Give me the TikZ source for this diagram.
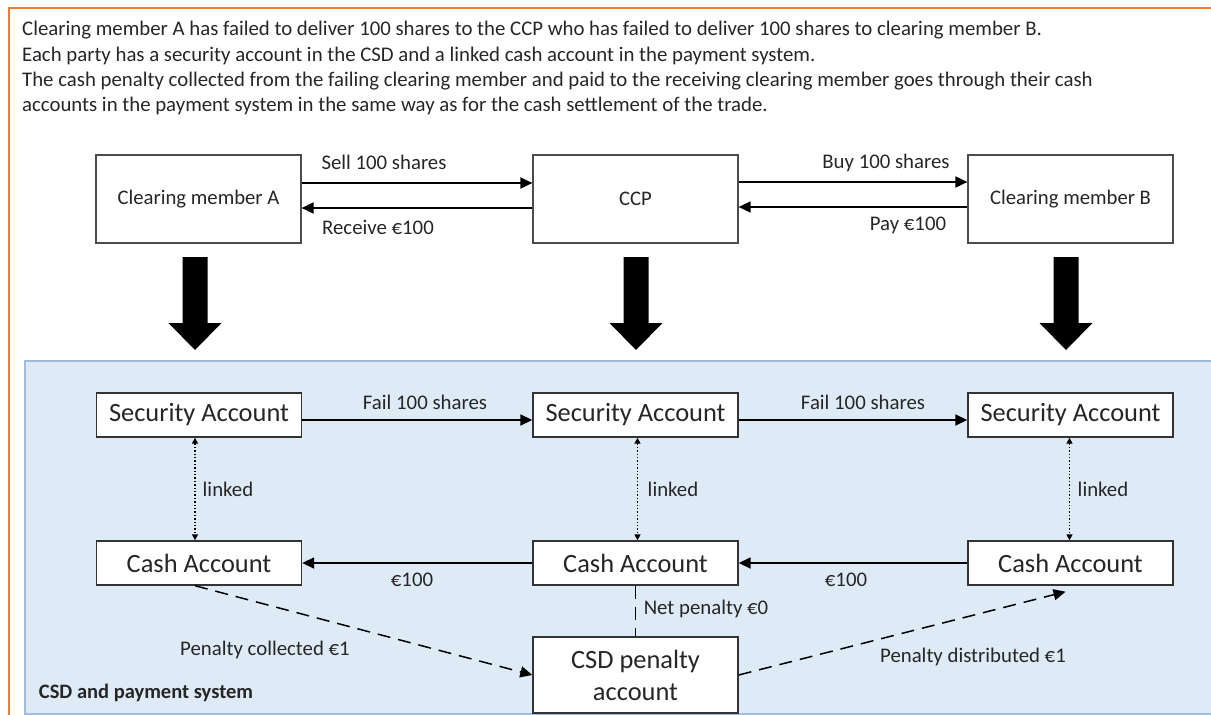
\documentclass[tikz,border=0pt]{standalone}
\usepackage{fontspec}
\setmainfont{Carlito}
\usepackage{xcolor}
\usepackage{tikz}
\usetikzlibrary{arrows.meta,calc,positioning}
\definecolor{frameorange}{RGB}{237,125,49}
\definecolor{panelblue}{RGB}{222,234,246}
\definecolor{paneledge}{RGB}{160,188,220}
\newcommand{\drawDownArrow}[1]
{
	\fill[black] (#1-12.5,257) -- (#1+12.5,257) -- (#1+12.5,323) -- (#1+26.5,323)
		-- (#1,350) -- (#1-26.5,323) -- (#1-12.5,323) -- cycle;
}
\begin{document}
\begin{tikzpicture}[x=1pt,y=-1pt,>={Triangle[length=12pt,width=11pt]},
	every node/.style={text=black!85},
	party/.style={draw=black!70,line width=1.2pt,fill=white,minimum width=205pt,minimum height=88pt,font=\fontsize{20.7}{24}\selectfont},
	account/.style={draw=black!80,line width=1.4pt,fill=white,minimum width=205pt,minimum height=44pt,font=\fontsize{26.4}{31}\selectfont},
	flow/.style={->,line width=1.8pt},
	lbl/.style={font=\fontsize{20.8}{24}\selectfont,inner sep=0pt},
	linkarrow/.style={{Triangle[length=6pt,width=6pt]}-{Triangle[length=6pt,width=6pt]},dotted,line width=1.4pt},
	penalty/.style={dash pattern=on 13pt off 8pt,line width=1.5pt}]
\useasboundingbox (0,0) rectangle (1211,715);

\draw[frameorange,line width=1.5pt] (9,716) -- (9,8) -- (1212,8);
\node[anchor=north west,align=left,inner sep=0pt,font=\fontsize{20.8}{25.4}\selectfont] (intro) at (22,21)
	{Clearing member A has failed to deliver 100 shares to the CCP who has failed to deliver 100 shares to clearing member B.\\
	Each party has a security account in the CSD and a linked cash account in the payment system.\\
	The cash penalty collected from the failing clearing member and paid to the receiving clearing member goes through their cash\\
	accounts in the payment system in the same way as for the cash settlement of the trade.};

\node[party] (A)   at (198.5,199) {Clearing member A};
\node[party] (CCP) at (635.5,199) {CCP};
\node[party] (B)   at (1070.5,199) {Clearing member B};

\draw[flow]([yshift= 16pt]A.east)   -- ([yshift= 16pt]CCP.west);
\draw[flow]([yshift= -9pt]CCP.west) -- ([yshift= -9pt]A.east);
\draw[flow]([yshift= 17pt]CCP.east) -- ([yshift= 17pt]B.west);
\draw[flow]([yshift= -8pt]B.west)   -- ([yshift= -8pt]CCP.east);
\node[lbl] (sell)    at (384,162) {Sell 100 shares};
\node[lbl] (receive) at (378,227) {Receive €100};
\node[lbl] (buy)     at (886,163) {Buy 100 shares};
\node[lbl] (pay)     at (908,225) {Pay €100};

\drawDownArrow{195}
\drawDownArrow{636}
\drawDownArrow{1066}

\draw[fill=panelblue,draw=paneledge,line width=1.2pt] (25,361) rectangle (1225,714);
\node[font=\bfseries\fontsize{20.5}{24}\selectfont,inner sep=0pt] (csdlbl) at (146,693) {CSD and payment system};

\node[account] (SA)   at (199,415)    {Security Account};
\node[account] (SCCP) at (635.5,415)  {Security Account};
\node[account] (SB)   at (1070.5,415) {Security Account};
\node[account] (CA)   at (199,563)    {Cash Account};
\node[account] (CCCP) at (635.5,563)  {Cash Account};
\node[account] (CB)   at (1070.5,563) {Cash Account};
\node[account,minimum height=76pt,align=center,font=\fontsize{26.4}{32}\selectfont] (P) at (635.5,675) {CSD penalty\\account};

\draw[flow]([yshift=-5pt]SA.east)   -- ([yshift=-5pt]SCCP.west);
\draw[flow]([yshift=-5pt]SCCP.east) -- ([yshift=-5pt]SB.west);
\draw[flow](CCCP.west) -- (CA.east);
\draw[flow](CB.west)   -- (CCCP.east);
\node[lbl] (fail1) at (425,402) {Fail 100 shares};
\node[lbl] (fail2) at (863,402) {Fail 100 shares};
\node[lbl] (cash1) at (412,580) {€100};
\node[lbl] (cash2) at (846,580) {€100};

\draw[linkarrow]([xshift=-4pt]SA.south)  -- ([xshift=-4pt]CA.north);
\draw[linkarrow]([xshift= 2pt]SCCP.south) -- ([xshift= 2pt]CCCP.north);
\draw[linkarrow]([xshift=-1pt]SB.south)  -- ([xshift=-1pt]CB.north);
\node[lbl] (link1) at (228,489)  {linked};
\node[lbl] (link2) at (673,489)  {linked};
\node[lbl] (link3) at (1103,489) {linked};

\draw[penalty](CCCP.south) -- (P.north);
\draw[penalty,->]([xshift=-4pt]CA.south) -- (P.west);
\draw[penalty,->](P.east) -- ([xshift=-5pt,yshift=-6pt]CB.south);
\node[lbl] (net)     at (706,609) {Net penalty €0};
\node[lbl] (collect) at (265,650) {Penalty collected €1};
\node[lbl] (distrib) at (973,657) {Penalty distributed €1};
\end{tikzpicture}
\end{document}
